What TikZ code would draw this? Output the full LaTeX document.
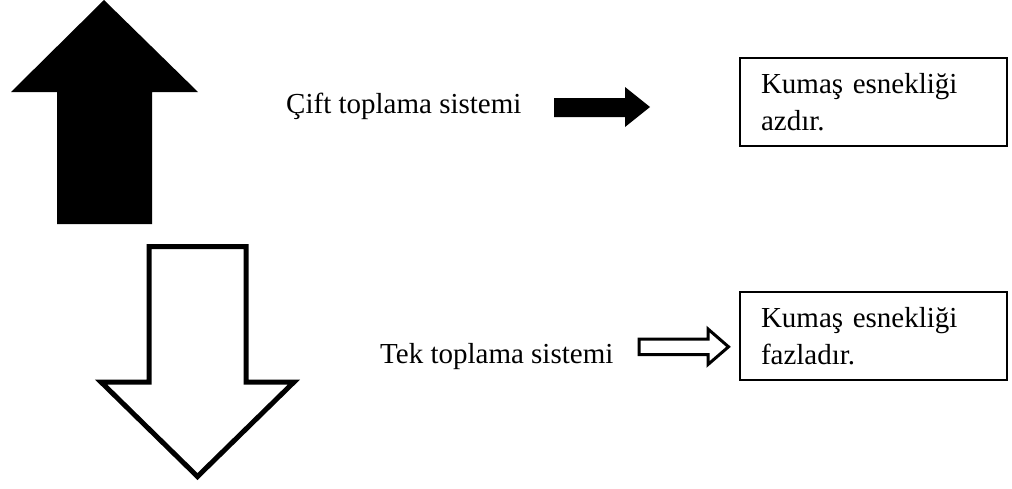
\documentclass[tikz,border=0pt]{standalone}
\usepackage{fontspec}
\setmainfont{Liberation Serif}
\begin{document}
\begin{tikzpicture}[x=1pt,y=-1pt,
  txt/.style={inner sep=0pt,font=\fontsize{29}{37}\selectfont},
  infobox/.style={draw,line width=2pt,minimum width=267pt,minimum height=88pt,
    inner xsep=21pt,inner ysep=0pt,text width=225pt,align=left,
    font=\fontsize{29}{37}\selectfont},
  bigfill/.style={fill=black},
  hollowbig/.style={draw=black,fill=white,line width=5pt,line join=miter},
  hollowsmall/.style={draw=black,fill=white,line width=3pt,line join=miter}]
\useasboundingbox (0,0) rectangle (1012,488);
% big black up arrow
\fill[bigfill] (104,0) -- (198,92) -- (152,92) -- (152,224) -- (57,224) -- (57,92) -- (11,92) -- cycle;
% big hollow down arrow
\draw[hollowbig] (149,246.5) -- (246,246.5) -- (246,382) -- (294,382) -- (197.5,476.5) -- (101,382) -- (149,382) -- cycle;
% labels
\node[txt,anchor=base west] (cift) at (286,113) {Çift toplama sistemi};
\node[txt,anchor=base west] (tek) at (380,363) {Tek toplama sistemi};
% boxes
\node[infobox] (box1) at (873.5,102) {Kumaş esnekliği\\azdır.};
\node[infobox] (box2) at (873.5,336) {Kumaş esnekliği\\fazladır.};
% small black arrow
\fill[bigfill] (554,98) -- (625,98) -- (625,87) -- (650,107) -- (625,127) -- (625,117) -- (554,117) -- cycle;
% small hollow arrow
\draw[hollowsmall] (639.2,339.2) -- (708,339.2) -- (708,329) -- (728.5,346.8) -- (708,364.5) -- (708,354.5) -- (639.2,354.5) -- cycle;
\end{tikzpicture}
\end{document}
